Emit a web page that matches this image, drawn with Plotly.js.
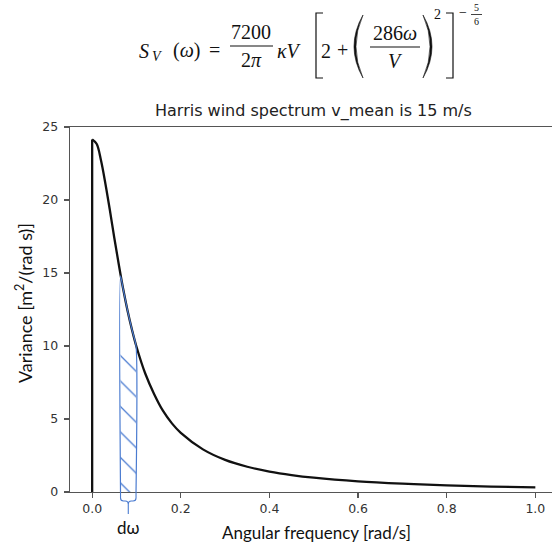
<!DOCTYPE html>
<html><head><meta charset="utf-8">
<script src="https://cdn.plot.ly/plotly-3.0.1.min.js"></script>
<style>html,body{margin:0;padding:0;background:#fff}</style>
</head><body><div id="chart" style="width:552px;height:545px"></div>
<script>
// ---- data ----
const omega = [0, 0.01, 0.02, 0.03, 0.04, 0.05, 0.06, 0.07, 0.08, 0.09, 0.10, 0.12, 0.14, 0.16, 0.18, 0.20, 0.25, 0.30, 0.35, 0.40, 0.45, 0.50, 0.60, 0.70, 0.80, 0.90, 1.00];
const variance = [24.15, 23.85, 22.7, 21.1, 19.3, 17.4, 15.6, 13.9, 12.4, 11.1, 9.95, 8.1, 6.7, 5.55, 4.7, 4.05, 2.92, 2.2, 1.73, 1.4, 1.16, 0.98, 0.73, 0.57, 0.455, 0.375, 0.315];
const dwOmega = [0.064, 0.07, 0.08, 0.09, 0.099];
const dwVariance = [14.8, 13.9, 12.4, 11.1, 10.0];
const hatchTop = 9.9;
const xTicks = [0, 0.2, 0.4, 0.6, 0.8, 1.0];
const xTickText = ['0.0', '0.2', '0.4', '0.6', '0.8', '1.0'];
const yTicks = [0, 5, 10, 15, 20, 25];
const titleText = 'Harris wind spectrum v_mean is 15 m/s';
const xLabel = 'Angular frequency [rad/s]';
const yLabel = 'Variance [m<sup>2</sup>/(rad s)]';

// ---- layout helpers ----
const W = 552, H = 545, M = {l: 70, r: 0, t: 127, b: 53};
const xr = [-0.05, 1.0376], yr = [0, 25];
const pw = W - M.l - M.r, ph = H - M.t - M.b;
const PX = p => (p - M.l) / pw;
const PY = p => (H - M.b - p) / ph;
const DX = v => (v - xr[0]) / (xr[1] - xr[0]);

const BLUE = '#4a7bd0';
const dw0 = dwOmega[0], dw1 = dwOmega[dwOmega.length - 1];

const traces = [
  { x: [dw0, dw1, dw1, dw0, dw0], y: [0, 0, hatchTop, hatchTop, 0], mode: 'lines', fill: 'toself',
    line: {width: 0, color: 'rgba(0,0,0,0)'}, fillcolor: 'rgba(0,0,0,0)',
    fillpattern: {shape: '\\', fgcolor: BLUE, bgcolor: 'rgba(255,255,255,0)', size: 18, solidity: 0.07},
    hoverinfo: 'skip', showlegend: false },
  { x: [omega[0], omega[0]], y: [0, variance[0]], mode: 'lines', line: {color: '#111', width: 2.3}, showlegend: false },
  { x: omega, y: variance, mode: 'lines', line: {color: '#111', width: 2.3, shape: 'spline', smoothing: 1}, showlegend: false },
  { x: [dw0].concat(dwOmega, [dw1]), y: [0].concat(dwVariance, [0]), mode: 'lines',
    line: {color: BLUE, width: 1.2, shape: 'spline', smoothing: 0.6}, showlegend: false }
];

const serif = 'Liberation Serif';
function T(text, x, y, size, extra) {
  return Object.assign({text: text, x: PX(x), y: PY(y), xref: 'paper', yref: 'paper', showarrow: false,
    xanchor: 'center', yanchor: 'middle', font: {family: serif, size: size, color: '#111'}}, extra || {});
}
function L(x0, y0, x1, y1, w) {
  return {type: 'line', xref: 'paper', yref: 'paper', x0: PX(x0), y0: PY(y0), x1: PX(x1), y1: PY(y1),
    line: {color: '#111', width: w || 1.1}};
}
function P(pts) { // pixel coords "x,y" -> paper coords
  return pts.replace(/(-?\d+(\.\d+)?),(-?\d+(\.\d+)?)/g, (m, a, b, c) => PX(+a).toFixed(5) + ',' + PY(+c).toFixed(5));
}

const annotations = [
  T('<i>S</i>', 144, 51, 20),
  T('<i>V</i>', 156.5, 57, 14),
  T('(<i>ω</i>)', 186, 51, 20),
  T('=', 214, 50, 20),
  T('7200', 251, 32, 20),
  T('2<i>π</i>', 251, 60, 20),
  T('<i>κV</i>', 289, 51, 20),
  T('2', 326, 51, 20),
  T('+', 342, 50, 20),
  T('286<i>ω</i>', 395, 33, 20),
  T('<i>V</i>', 395, 61, 20),
  T('2', 437, 15, 14),
  T('−', 463, 13, 14),
  T('5', 476.5, 8, 10),
  T('6', 476.5, 21, 10),
  // title and axis labels
  {text: titleText, x: PX(313), y: PY(111), xref: 'paper', yref: 'paper', showarrow: false, xanchor: 'center', yanchor: 'middle',
   font: {family: 'DejaVu Sans', size: 16, color: '#222'}},
  {text: xLabel, x: PX(316), y: PY(532), xref: 'paper', yref: 'paper', showarrow: false, xanchor: 'center', yanchor: 'middle',
   font: {family: 'Lato', size: 17, color: '#111'}},
  {text: yLabel, x: PX(24), y: PY(303), xref: 'paper', yref: 'paper', showarrow: false, xanchor: 'center', yanchor: 'middle', textangle: -90,
   font: {family: 'Lato', size: 18, color: '#111'}},
  {text: 'dω', x: DX((dw0 + dw1) / 2), y: PY(527), xref: 'paper', yref: 'paper', showarrow: false, xanchor: 'center', yanchor: 'middle',
   font: {family: 'Lato', size: 17, color: '#111'}}
];

// brace under dω
const bl = M.l + DX(dw0) * pw, br = M.l + DX(dw1) * pw, bc = (bl + br) / 2;
const shapes = [
  L(230, 46, 273, 46), L(370, 47, 420, 47), L(471, 14.5, 482, 14.5, 0.8),
  {type: 'path', xref: 'paper', yref: 'paper', path: P('M 323,13 L 316,13 L 316,78 L 323,78'), line: {color: '#111', width: 1.2}},
  {type: 'path', xref: 'paper', yref: 'paper', path: P('M 446,13 L 453,13 L 453,78 L 446,78'), line: {color: '#111', width: 1.2}},
  {type: 'path', xref: 'paper', yref: 'paper', path: P('M 363,15 Q 345,46.5 363,78 Q 349,46.5 363,15 Z'), fillcolor: '#111', line: {color: '#111', width: 0.6}},
  {type: 'path', xref: 'paper', yref: 'paper', path: P('M 423,15 Q 441,46.5 423,78 Q 437,46.5 423,15 Z'), fillcolor: '#111', line: {color: '#111', width: 0.6}},
  {type: 'path', xref: 'paper', yref: 'paper',
   path: P(`M ${bl},492 L ${bl},498 Q ${bl},501 ${bl + 3},501 L ${bc - 3},501 Q ${bc},501 ${bc},504 L ${bc},514 M ${br},492 L ${br},498 Q ${br},501 ${br - 3},501 L ${bc + 3},501 Q ${bc},501 ${bc},504`),
   line: {color: BLUE, width: 1.1}}
];

const axisCommon = {showgrid: false, zeroline: false, showline: true, linecolor: '#555', linewidth: 1.3,
  ticks: 'outside', ticklen: 5, tickwidth: 1.2, tickcolor: '#555',
  tickfont: {family: 'DejaVu Sans', size: 12.5, color: '#333'}};

const layout = {
  width: W, height: H, margin: M, paper_bgcolor: '#fff', plot_bgcolor: '#fff', showlegend: false,
  xaxis: Object.assign({}, axisCommon, {range: xr, tickvals: xTicks, ticktext: xTickText, mirror: true}),
  yaxis: Object.assign({}, axisCommon, {range: yr, tickvals: yTicks, ticklabelstandoff: 3}),
  annotations: annotations, shapes: shapes
};

Plotly.newPlot('chart', traces, layout, {displayModeBar: false, staticPlot: true});
</script></body></html>
